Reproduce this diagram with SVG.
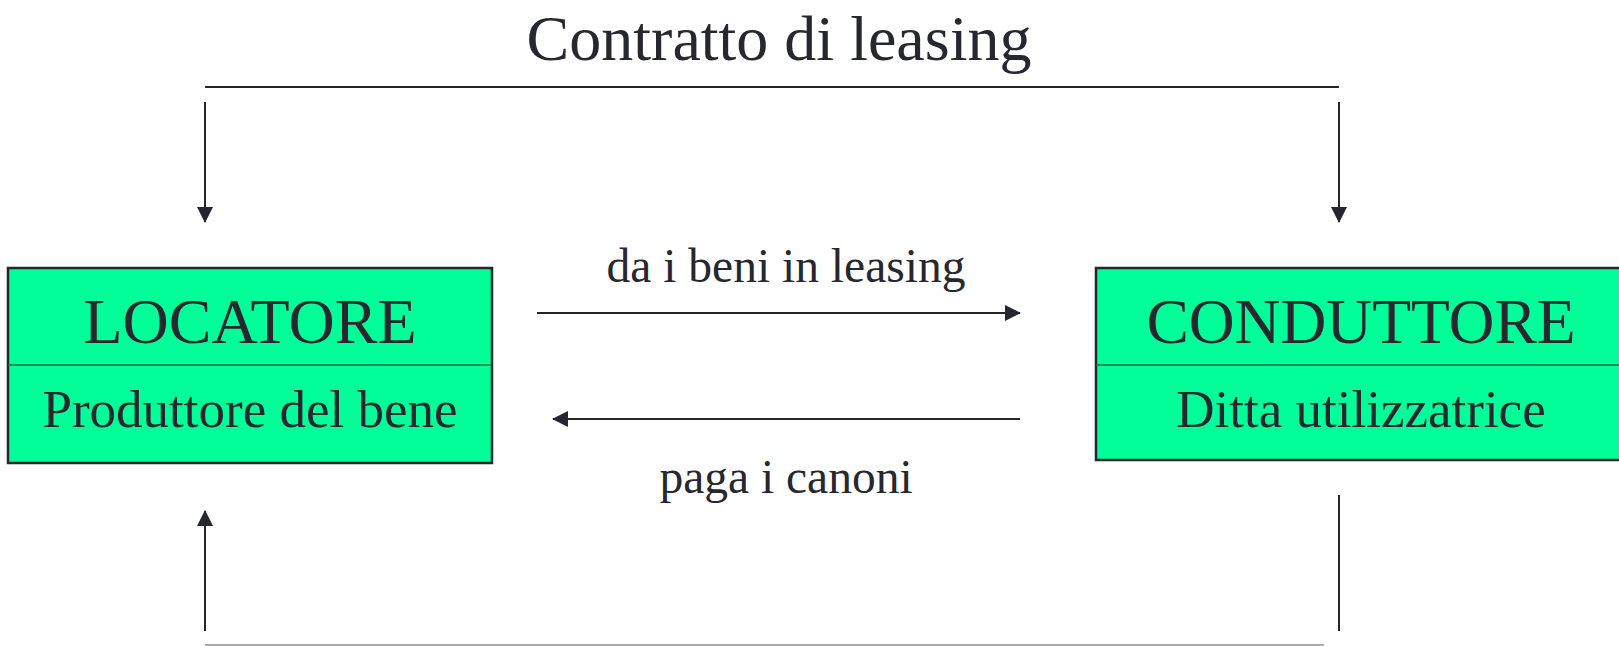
<svg xmlns="http://www.w3.org/2000/svg" width="1619" height="646" viewBox="0 0 1619 646">
  <style>
    .txt { font-family: "Liberation Serif", "Times New Roman", serif; fill: #272730; text-anchor: middle; }
    .box { fill: #00ff99; stroke: #26262e; stroke-width: 2.5; }
    .div { stroke: #1e6a4a; stroke-width: 1.5; }
    .ln { stroke: #26262e; stroke-width: 2; fill: none; }
  </style>
  <defs>
    <marker id="arr" markerUnits="userSpaceOnUse" markerWidth="16" markerHeight="16" refX="15" refY="8" orient="auto">
      <path d="M0,0 L16,8 L0,16 Z" fill="#26262e"/>
    </marker>
  </defs>

  <text class="txt" x="779" y="60" font-size="64">Contratto di leasing</text>

  <g id="locatore">
    <rect class="box" x="8" y="268" width="484" height="195"/>
    <line class="div" x1="8" y1="365" x2="492" y2="365"/>
    <text class="txt" x="250" y="343" font-size="64">LOCATORE</text>
    <text class="txt" x="250" y="427" font-size="53">Produttore del bene</text>
  </g>

  <g id="conduttore">
    <rect class="box" x="1096" y="268" width="540" height="192"/>
    <line class="div" x1="1096" y1="365" x2="1636" y2="365"/>
    <text class="txt" x="1361" y="343" font-size="63.5">CONDUTTORE</text>
    <text class="txt" x="1361" y="427" font-size="53">Ditta utilizzatrice</text>
  </g>

  <g id="connectors">
    <line class="ln" x1="205" y1="87" x2="1339" y2="87"/>
    <line class="ln" x1="205" y1="102" x2="205" y2="222" marker-end="url(#arr)"/>
    <line class="ln" x1="1339" y1="102" x2="1339" y2="222" marker-end="url(#arr)"/>
    <line class="ln" x1="537" y1="313" x2="1020" y2="313" marker-end="url(#arr)"/>
    <line class="ln" x1="1020" y1="419" x2="553" y2="419" marker-end="url(#arr)"/>
    <line class="ln" x1="205" y1="631" x2="205" y2="511" marker-end="url(#arr)"/>
    <line class="ln" x1="1339" y1="495" x2="1339" y2="631"/>
    <line x1="205" y1="645" x2="1324" y2="645" stroke="#aaaaaa" stroke-width="2"/>
  </g>

  <text class="txt" x="786" y="282" font-size="47.5">da i beni in leasing</text>
  <text class="txt" x="786" y="493" font-size="47.5">paga i canoni</text>
</svg>
